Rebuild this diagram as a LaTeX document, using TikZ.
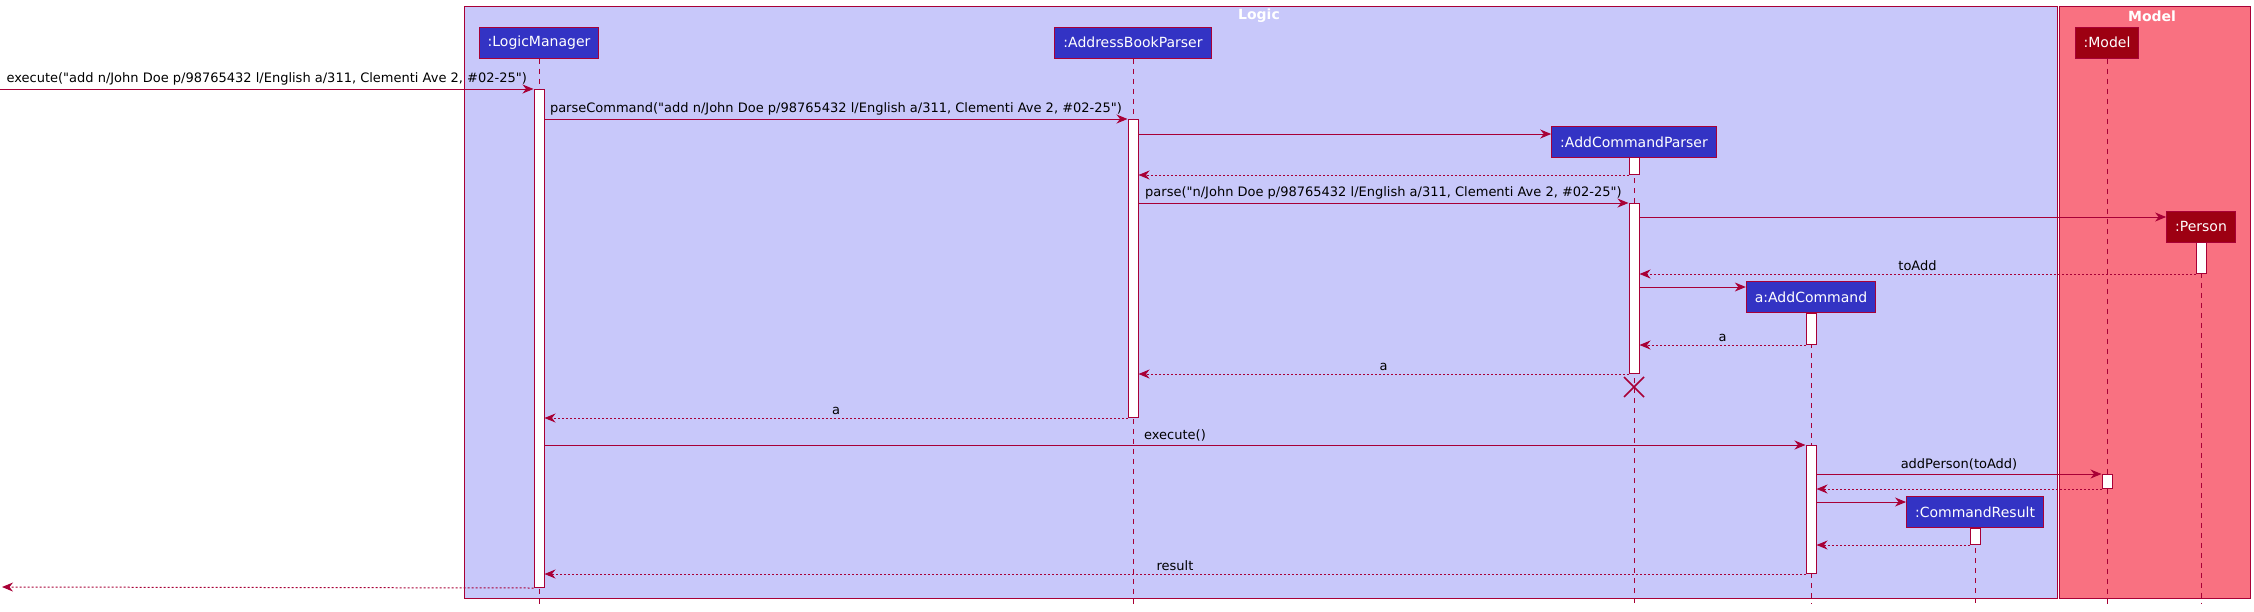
\documentclass[tikz,border=0pt]{standalone}
\usepackage{fontspec}
\newfontfamily\umlfont{DejaVu Sans}
\usetikzlibrary{arrows.meta}
\definecolor{logicbg}{HTML}{C8C8FA}
\definecolor{modelbg}{HTML}{F97181}
\definecolor{logicfg}{HTML}{3333C4}
\definecolor{modelfg}{HTML}{9D0012}
\definecolor{umlred}{HTML}{A80036}

\begin{document}
\begin{tikzpicture}[x=1pt,y=-1pt,
  part/.style={draw=umlred,line width=1pt,text=white,font=\umlfont\fontsize{14}{16}\selectfont,minimum height=31pt,inner xsep=8.5pt,inner ysep=0pt},
  act/.style={draw=umlred,fill=white,line width=1pt,minimum width=10pt,inner sep=0pt,anchor=north},
  life/.style={umlred,line width=1pt,dash pattern=on 5pt off 5pt},
  msg/.style={umlred,line width=1pt,-{Stealth[length=11pt,width=9pt,inset=3.5pt]}},
  ret/.style={msg,dash pattern=on 2pt off 2pt},
  lbl/.style={midway,anchor=south,text=black,font=\umlfont\fontsize{13}{15}\selectfont,inner sep=0pt,yshift=3pt},
  boxtitle/.style={text=white,font=\umlfont\fontsize{14}{16}\selectfont\bfseries}]
\useasboundingbox (0,0) rectangle (2254,611);

% the two boxes
\draw[umlred,line width=1pt,fill=logicbg] (464,6) rectangle (2057,598);
\draw[umlred,line width=1pt,fill=modelbg] (2059,6) rectangle (2250,598);
\node[boxtitle] (logicTitle) at (1259,16) {Logic};
\node[boxtitle] (modelTitle) at (2152,16) {Model};

% participants
\node[part,fill=logicfg] (lm) at (539,42.5) {:LogicManager};
\node[part,fill=logicfg] (abp) at (1133,42.5) {:AddressBookParser};
\node[part,fill=modelfg] (model) at (2107,42.5) {:Model};
\node[part,fill=logicfg] (acp) at (1634,142) {:AddCommandParser};
\node[part,fill=modelfg] (person) at (2201,226.5) {:Person};
\node[part,fill=logicfg] (ac) at (1811,297) {a:AddCommand};
\node[part,fill=logicfg] (cr) at (1975,512) {:CommandResult};

\foreach \p in {lm,abp,model,acp,person,ac,cr}
  \draw[life] (\p.south) -- (\p.south |- 0,604);

% activations
\node[act,minimum height=498pt] (lmAct) at (539,89) {};
\node[act,minimum height=298pt] (abpAct) at (1133,119) {};
\node[act,minimum height=17pt] (acpAct1) at (1634,157) {};
\node[act,minimum height=170pt] (acpAct2) at (1634,203) {};
\node[act,minimum height=31pt] (personAct) at (2201,242) {};
\node[act,minimum height=31pt] (acAct1) at (1811,313) {};
\node[act,minimum height=128pt] (acAct2) at (1811,445) {};
\node[act,minimum height=14pt] (modelAct) at (2107,474) {};
\node[act,minimum height=16pt] (crAct) at (1975,528) {};

\coordinate (inL) at (0,89);
\coordinate (outL) at (2,587);
\coordinate (kill) at (1634,387);

% messages
\draw[msg] (inL) -- (lmAct.west |- inL) node[lbl] {execute("add n/John Doe p/98765432 l/English a/311, Clementi Ave 2, \#02-25")};
\draw[msg] (lmAct.east |- 0,119) -- (abpAct.north west) node[lbl] {parseCommand("add n/John Doe p/98765432 l/English a/311, Clementi Ave 2, \#02-25")};
\draw[msg] (abpAct.east |- 0,134) -- (acp.west |- 0,134);
\draw[ret] (acpAct1.south west) -- (abpAct.east |- acpAct1.south);
\draw[msg] (abpAct.east |- 0,203) -- (acpAct2.north west) node[lbl] {parse("n/John Doe p/98765432 l/English a/311, Clementi Ave 2, \#02-25")};
\draw[msg] (acpAct2.east |- 0,217) -- (person.west |- 0,217);
\draw[ret] (personAct.south west) -- (acpAct2.east |- personAct.south) node[lbl] {toAdd};
\draw[msg] (acpAct2.east |- 0,287) -- (ac.west |- 0,287);
\draw[ret] (acAct1.south west) -- (acpAct2.east |- acAct1.south) node[lbl] {a};
\draw[ret] (acpAct2.south west) -- (abpAct.east |- acpAct2.south) node[lbl] {a};
\draw[umlred,line width=1.5pt] (kill) +(-10,-10) -- +(10,10) (kill) +(-10,10) -- +(10,-10);
\draw[ret] (abpAct.south west) -- (lmAct.east |- abpAct.south) node[lbl] {a};
\draw[msg] (lmAct.east |- 0,445) -- (acAct2.north west) node[lbl] {execute()};
\draw[msg] (acAct2.east |- 0,474) -- (modelAct.north west) node[lbl] {addPerson(toAdd)};
\draw[ret] (modelAct.south west) -- (acAct2.east |- modelAct.south);
\draw[msg] (acAct2.east |- 0,502) -- (cr.west |- 0,502);
\draw[ret] (crAct.south west) -- (acAct2.east |- crAct.south);
\draw[ret] (acAct2.south west) -- (lmAct.east |- acAct2.south) node[lbl] {result};
\draw[ret] (lmAct.south west) -- (outL);
\end{tikzpicture}
\end{document}
